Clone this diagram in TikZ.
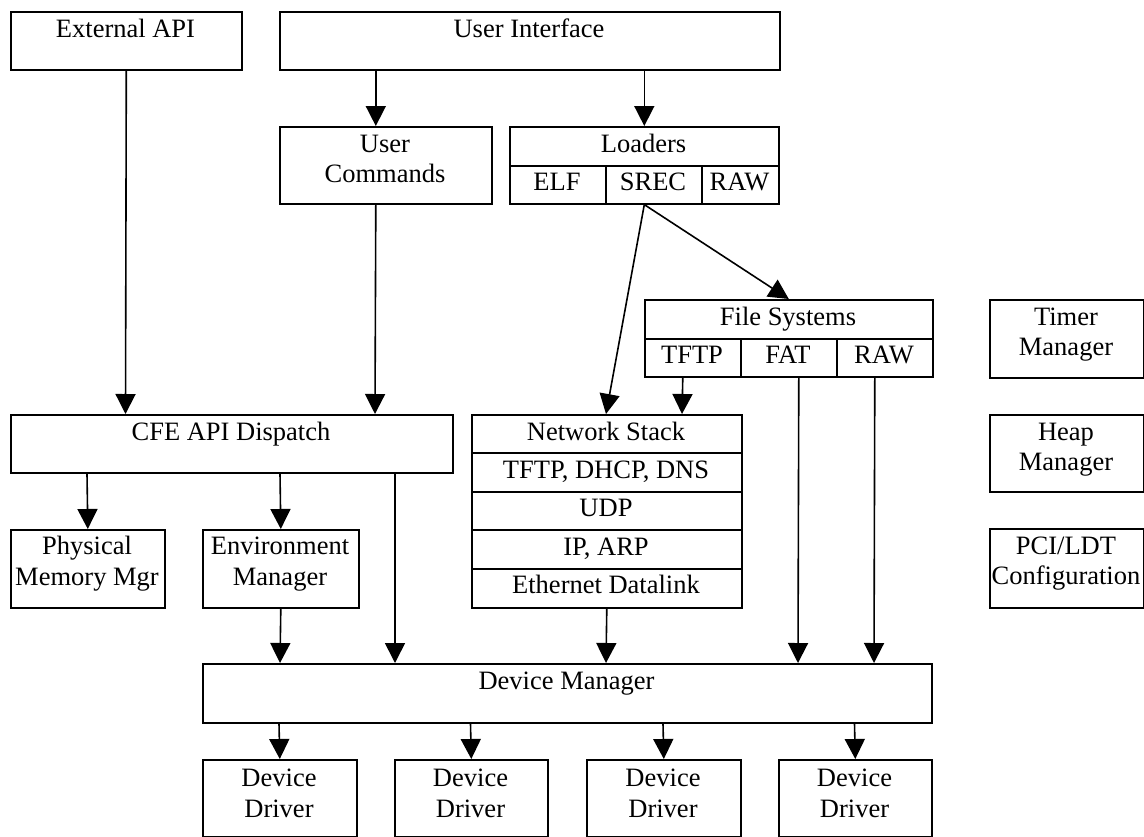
\documentclass[tikz,border=0pt]{standalone}
\usepackage{fontspec}
\setmainfont{Liberation Serif}
\usetikzlibrary{arrows.meta,calc}
\tikzset{
  box/.style={draw, line width=1.6pt, rectangle, inner sep=0pt, anchor=north west},
  lbl/.style={anchor=base, inner sep=0pt, font=\fontsize{26.5}{30}\selectfont},
  conn/.style={line width=1.6pt, -{Triangle[length=20pt,width=20pt]}},
  plain/.style={line width=1.6pt},
}
\begin{document}
\begin{tikzpicture}[x=1pt,y=-1pt]
\useasboundingbox (0,0) rectangle (1144,836);
% boxes
\node[box, minimum width=231pt, minimum height=58pt] (ext) at (10,11) {};
\node[box, minimum width=500pt, minimum height=58pt] (ui) at (279,11) {};
\node[box, minimum width=212pt, minimum height=77pt] (uc) at (279,126) {};
\node[box, minimum width=269pt, minimum height=39pt] (ldr) at (509,126) {};
\node[box, minimum width=96pt, minimum height=38pt] (elf) at (509,165) {};
\node[box, minimum width=96pt, minimum height=38pt] (srec) at (605,165) {};
\node[box, minimum width=77pt, minimum height=38pt] (lraw) at (701,165) {};
\node[box, minimum width=288pt, minimum height=39pt] (fs) at (644,299) {};
\node[box, minimum width=96pt, minimum height=38pt] (tftp) at (644,338) {};
\node[box, minimum width=96pt, minimum height=38pt] (fat) at (740,338) {};
\node[box, minimum width=96pt, minimum height=38pt] (fraw) at (836,338) {};
\node[box, minimum width=154pt, minimum height=78pt] (timer) at (989,299) {};
\node[box, minimum width=154pt, minimum height=77pt] (heap) at (989,414) {};
\node[box, minimum width=154pt, minimum height=79pt] (pci) at (989,528) {};
\node[box, minimum width=442pt, minimum height=58pt] (cfe) at (10,414) {};
\node[box, minimum width=270pt, minimum height=38pt] (ns) at (471,414) {};
\node[box, minimum width=270pt, minimum height=39pt] (tdd) at (471,452) {};
\node[box, minimum width=270pt, minimum height=38pt] (udp) at (471,491) {};
\node[box, minimum width=270pt, minimum height=39pt] (ip) at (471,529) {};
\node[box, minimum width=270pt, minimum height=39pt] (eth) at (471,568) {};
\node[box, minimum width=154pt, minimum height=78pt] (phys) at (10,529) {};
\node[box, minimum width=156pt, minimum height=78pt] (env) at (202,529) {};
\node[box, minimum width=729pt, minimum height=59pt] (dm) at (202,663) {};
\node[box, minimum width=154pt, minimum height=77pt] (d1) at (202,759) {};
\node[box, minimum width=153pt, minimum height=77pt] (d2) at (394,759) {};
\node[box, minimum width=154pt, minimum height=77pt] (d3) at (586,759) {};
\node[box, minimum width=153pt, minimum height=77pt] (d4) at (778,759) {};
% labels
\node[lbl] (t-ext) at (125.5,37) {External API};
\node[lbl] (t-ui) at (529,37) {User Interface};
\node[lbl] (t-uc1) at (385,152) {User};
\node[lbl] (t-uc2) at (385,182) {Commands};
\node[lbl] (t-ldr) at (643.5,152) {Loaders};
\node[lbl] (t-elf) at (557,190) {ELF};
\node[lbl] (t-srec) at (653,190) {SREC};
\node[lbl] (t-lraw) at (739.5,190) {RAW};
\node[lbl] (t-fs) at (788,325) {File Systems};
\node[lbl] (t-tftp) at (692,363) {TFTP};
\node[lbl] (t-fat) at (788,363) {FAT};
\node[lbl] (t-fraw) at (884,363) {RAW};
\node[lbl] (t-timer1) at (1066,325) {Timer};
\node[lbl] (t-timer2) at (1066,355) {Manager};
\node[lbl] (t-heap1) at (1066,440) {Heap};
\node[lbl] (t-heap2) at (1066,470) {Manager};
\node[lbl] (t-pci1) at (1066,554) {PCI/LDT};
\node[lbl] (t-pci2) at (1066,584) {Configuration};
\node[lbl] (t-cfe) at (231,440) {CFE API Dispatch};
\node[lbl] (t-ns) at (606,440) {Network Stack};
\node[lbl] (t-tdd) at (606,478) {TFTP, DHCP, DNS};
\node[lbl] (t-udp) at (606,516) {UDP};
\node[lbl] (t-ip) at (606,555) {IP, ARP};
\node[lbl] (t-eth) at (606,593) {Ethernet Datalink};
\node[lbl] (t-phys1) at (87,554) {Physical};
\node[lbl] (t-phys2) at (87,585) {Memory Mgr};
\node[lbl] (t-env1) at (280,554) {Environment};
\node[lbl] (t-env2) at (280,585) {Manager};
\node[lbl] (t-dm) at (566.5,689) {Device Manager};
\node[lbl] (t-d1a) at (279,786) {Device};
\node[lbl] (t-d1b) at (279,817) {Driver};
\node[lbl] (t-d2a) at (470.5,786) {Device};
\node[lbl] (t-d2b) at (470.5,817) {Driver};
\node[lbl] (t-d3a) at (663,786) {Device};
\node[lbl] (t-d3b) at (663,817) {Driver};
\node[lbl] (t-d4a) at (854.5,786) {Device};
\node[lbl] (t-d4b) at (854.5,817) {Driver};
% connectors
\draw[conn] (ext.south) -- ([xshift=115.5pt]cfe.north west);
\draw[conn] ([xshift=-154pt]ui.south) -- ([xshift=-10pt]uc.north);
\draw[conn] ([xshift=114.5pt]ui.south) -- (ldr.north);
\draw[conn] ([xshift=-10pt]uc.south) -- ([xshift=365pt]cfe.north west);
\draw[conn] (ldr.center |- srec.south) -- ([xshift=135pt]ns.north west);
\draw[conn] (ldr.center |- srec.south) -- (fs.north);
\draw[conn] ([xshift=-10pt]tftp.south) -- ([xshift=211pt]ns.north west);
\draw[conn] ([xshift=10pt]fat.south) -- ([xshift=596pt]dm.north west);
\draw[conn] ([xshift=-10pt]fraw.south) -- ([xshift=672pt]dm.north west);
\draw[conn] ([xshift=77pt]cfe.south west) -- (phys.north);
\draw[conn] ([xshift=270pt]cfe.south west) -- (env.north);
\draw[conn] ([xshift=385pt]cfe.south west) -- ([xshift=193pt]dm.north west);
\draw[conn] (env.south) -- ([xshift=78pt]dm.north west);
\draw[conn] (eth.south) -- ([xshift=404pt]dm.north west);
\draw[conn] ([xshift=77pt]dm.south west) -- (d1.north);
\draw[conn] ([xshift=268.5pt]dm.south west) -- (d2.north);
\draw[conn] ([xshift=461pt]dm.south west) -- (d3.north);
\draw[conn] ([xshift=652.5pt]dm.south west) -- (d4.north);
\end{tikzpicture}
\end{document}
